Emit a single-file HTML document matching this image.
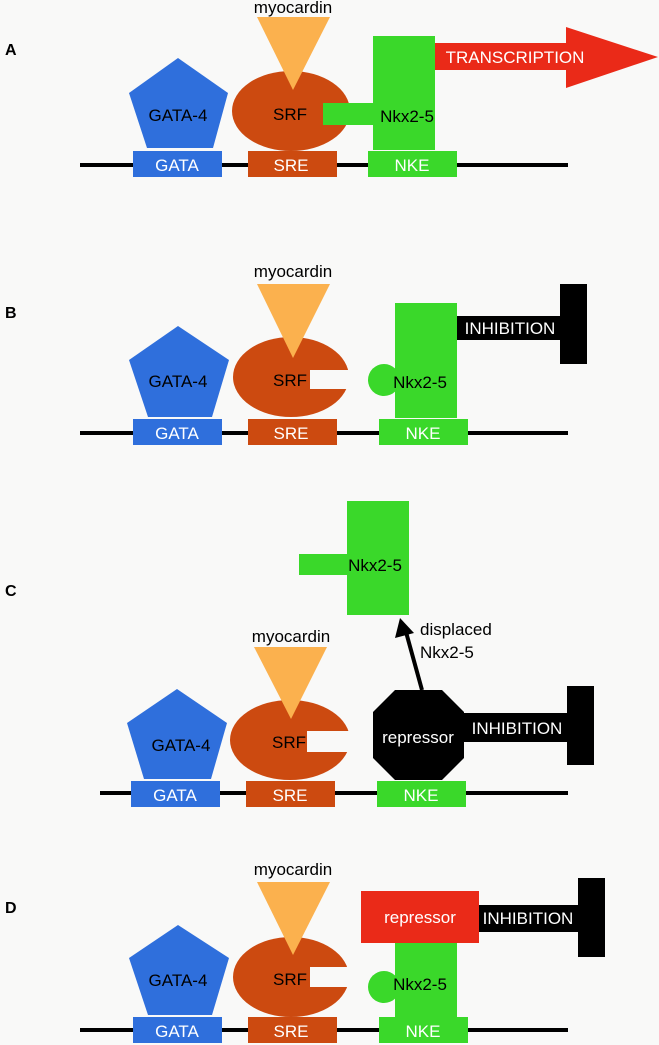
<!DOCTYPE html>
<html><head><style>
html,body{margin:0;padding:0;background:#f9f9f8;}
svg{display:block;font-family:"Liberation Sans",sans-serif;}
</style></head><body>
<svg width="659" height="1045" viewBox="0 0 659 1045" xmlns="http://www.w3.org/2000/svg">
<rect width="659" height="1045" fill="#f9f9f8"/>
<g font-size="17">
<!-- Panel A -->
<text x="5" y="55" font-weight="bold" font-size="16">A</text>
<rect x="80" y="163" width="488" height="4" fill="#000"/>
<rect x="133" y="151" width="89" height="26" fill="#2f6fdc"/>
<text x="177" y="171" fill="#fff" text-anchor="middle">GATA</text>
<rect x="248" y="151" width="89" height="26" fill="#cc4a10"/>
<text x="291" y="171" fill="#fff" text-anchor="middle">SRE</text>
<rect x="368" y="151" width="89" height="26" fill="#3ad82a"/>
<text x="412" y="171" fill="#fff" text-anchor="middle">NKE</text>
<polygon points="178,58 228,93 213,148 147,148 129,93" fill="#2f6fdc"/>
<text x="178" y="121" text-anchor="middle">GATA-4</text>
<ellipse cx="291" cy="111" rx="59" ry="40" fill="#cc4a10"/>
<polygon points="257,17 330,17 293,90" fill="#fbb14e"/>
<text x="293" y="13" text-anchor="middle">myocardin</text>
<text x="290" y="120" text-anchor="middle">SRF</text>
<rect x="373" y="36" width="62" height="114" fill="#3ad82a"/>
<rect x="323" y="103" width="51" height="22" fill="#3ad82a"/>
<text x="407" y="122" text-anchor="middle">Nkx2-5</text>
<rect x="435" y="43" width="133" height="27" fill="#ea2a18"/>
<polygon points="566,27 658,57 566,88" fill="#ea2a18"/>
<text x="515" y="63" fill="#fff" text-anchor="middle">TRANSCRIPTION</text>

<!-- Panel B -->
<text x="5" y="318" font-weight="bold" font-size="16">B</text>
<rect x="80" y="431" width="488" height="4" fill="#000"/>
<rect x="133" y="419" width="89" height="26" fill="#2f6fdc"/>
<text x="177" y="439" fill="#fff" text-anchor="middle">GATA</text>
<rect x="248" y="419" width="89" height="26" fill="#cc4a10"/>
<text x="291" y="439" fill="#fff" text-anchor="middle">SRE</text>
<rect x="379" y="419" width="89" height="26" fill="#3ad82a"/>
<text x="423" y="439" fill="#fff" text-anchor="middle">NKE</text>
<polygon points="178,326 229,360 212,417 148,417 129,360" fill="#2f6fdc"/>
<text x="178" y="387" text-anchor="middle">GATA-4</text>
<ellipse cx="291" cy="377" rx="58" ry="40" fill="#cc4a10"/>
<rect x="310" y="370" width="42" height="19" fill="#f9f9f8"/>
<polygon points="257,284 330,284 293,358" fill="#fbb14e"/>
<text x="293" y="277" text-anchor="middle">myocardin</text>
<text x="290" y="386" text-anchor="middle">SRF</text>
<rect x="395" y="303" width="62" height="115" fill="#3ad82a"/>
<circle cx="384" cy="380" r="16" fill="#3ad82a"/>
<text x="420" y="388" text-anchor="middle">Nkx2-5</text>
<rect x="457" y="316" width="104" height="24" fill="#000"/>
<rect x="560" y="284" width="27" height="80" fill="#000"/>
<text x="510" y="334" fill="#fff" text-anchor="middle">INHIBITION</text>

<!-- Panel C -->
<text x="5" y="596" font-weight="bold" font-size="16">C</text>
<rect x="100" y="791" width="468" height="4" fill="#000"/>
<rect x="131" y="781" width="89" height="26" fill="#2f6fdc"/>
<text x="175" y="801" fill="#fff" text-anchor="middle">GATA</text>
<rect x="246" y="781" width="89" height="26" fill="#cc4a10"/>
<text x="290" y="801" fill="#fff" text-anchor="middle">SRE</text>
<rect x="377" y="781" width="89" height="26" fill="#3ad82a"/>
<text x="421" y="801" fill="#fff" text-anchor="middle">NKE</text>
<polygon points="177,689 227,723 211,779 144,779 127,723" fill="#2f6fdc"/>
<text x="181" y="751" text-anchor="middle">GATA-4</text>
<ellipse cx="290" cy="740" rx="60" ry="40" fill="#cc4a10"/>
<rect x="307" y="731" width="44" height="21" fill="#f9f9f8"/>
<polygon points="254,647 327,647 291,719" fill="#fbb14e"/>
<text x="291" y="642" text-anchor="middle">myocardin</text>
<text x="289" y="748" text-anchor="middle">SRF</text>
<polygon points="395,690 442,690 464,712 464,758 442,780 395,780 373,758 373,712" fill="#000"/>
<text x="418" y="743" fill="#fff" text-anchor="middle">repressor</text>
<rect x="464" y="713" width="104" height="29" fill="#000"/>
<rect x="567" y="686" width="27" height="79" fill="#000"/>
<text x="517" y="734" fill="#fff" text-anchor="middle">INHIBITION</text>
<line x1="422" y1="690" x2="406" y2="632" stroke="#000" stroke-width="4"/>
<polygon points="400,618 395,638 414,633" fill="#000"/>
<text x="420" y="635">displaced</text>
<text x="420" y="658">Nkx2-5</text>
<rect x="347" y="501" width="62" height="114" fill="#3ad82a"/>
<rect x="299" y="554" width="49" height="21" fill="#3ad82a"/>
<text x="375" y="571" text-anchor="middle">Nkx2-5</text>

<!-- Panel D -->
<text x="5" y="913" font-weight="bold" font-size="16">D</text>
<rect x="80" y="1028" width="488" height="4" fill="#000"/>
<rect x="133" y="1017" width="89" height="26" fill="#2f6fdc"/>
<text x="177" y="1037" fill="#fff" text-anchor="middle">GATA</text>
<rect x="248" y="1017" width="89" height="26" fill="#cc4a10"/>
<text x="291" y="1037" fill="#fff" text-anchor="middle">SRE</text>
<rect x="379" y="1017" width="89" height="26" fill="#3ad82a"/>
<text x="423" y="1037" fill="#fff" text-anchor="middle">NKE</text>
<polygon points="178,925 229,958 212,1015 148,1015 129,958" fill="#2f6fdc"/>
<text x="178" y="986" text-anchor="middle">GATA-4</text>
<ellipse cx="291" cy="977" rx="58" ry="40" fill="#cc4a10"/>
<rect x="310" y="967" width="42" height="20" fill="#f9f9f8"/>
<polygon points="257,882 330,882 293,955" fill="#fbb14e"/>
<text x="293" y="875" text-anchor="middle">myocardin</text>
<text x="290" y="985" text-anchor="middle">SRF</text>
<rect x="395" y="943" width="62" height="74" fill="#3ad82a"/>
<circle cx="384" cy="987" r="16" fill="#3ad82a"/>
<text x="420" y="990" text-anchor="middle">Nkx2-5</text>
<rect x="361" y="891" width="118" height="52" fill="#ea2a18"/>
<text x="420" y="923" fill="#fff" text-anchor="middle">repressor</text>
<rect x="479" y="905" width="100" height="27" fill="#000"/>
<rect x="578" y="878" width="27" height="79" fill="#000"/>
<text x="528" y="924" fill="#fff" text-anchor="middle">INHIBITION</text>
</g>
</svg>
</body></html>
